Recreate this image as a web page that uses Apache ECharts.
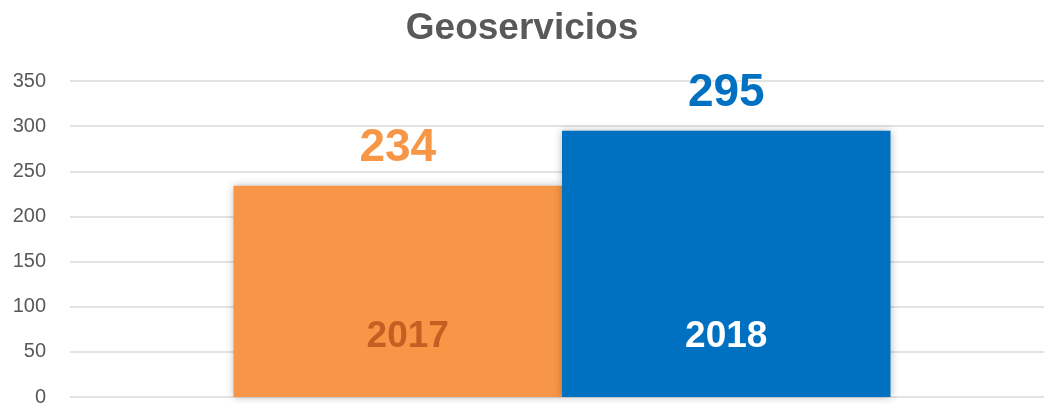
<!DOCTYPE html>
<html>
<head>
<meta charset="utf-8">
<script src="https://cdn.jsdelivr.net/npm/echarts@6/dist/echarts.min.js"></script>
<style>
html,body{margin:0;padding:0;background:#fff;}
#chart{width:1044px;height:404px;}
</style>
</head>
<body>
<div id="chart"></div>
<script>
var title = 'Geoservicios';
var categories = ['Geoservicios'];
var years = ['2017', '2018'];
var values2017 = [234];
var values2018 = [295];
var yTicks = [0, 50, 100, 150, 200, 250, 300, 350];

var colors = ['#F79646', '#0070C0'];
var innerColors = ['#C55E22', '#FFFFFF'];
var seriesValues = [values2017, values2018];
var FONT = '"Liberation Sans", Arial, sans-serif';

var series = [];
years.forEach(function (y, i) {
  series.push({
    name: y,
    type: 'bar',
    xAxisIndex: 0,
    data: seriesValues[i],
    barWidth: 328.5,
    barGap: '0%',
    itemStyle: { color: colors[i], shadowBlur: 8, shadowColor: 'rgba(0,0,0,0.28)' },
    label: {
      show: true, position: 'top', distance: 14,
      color: colors[i], fontSize: 46, fontWeight: 'bold', fontFamily: FONT
    },
    emphasis: { disabled: true },
    z: 2
  });
});
years.forEach(function (y, i) {
  series.push({
    name: y,
    type: 'bar',
    xAxisIndex: 1,
    data: seriesValues[i],
    barWidth: 328.5,
    barGap: '0%',
    itemStyle: { color: 'rgba(0,0,0,0)' },
    label: {
      show: true, position: 'insideBottom', distance: 42,
      offset: i === 0 ? [10, 0] : [0, 0],
      formatter: '{a}',
      color: innerColors[i], fontSize: 37, fontWeight: 'bold', fontFamily: FONT
    },
    emphasis: { disabled: true },
    z: 3
  });
});

var chart = echarts.init(document.getElementById('chart'), null, { renderer: 'canvas' });
chart.setOption({
  animation: false,
  title: {
    text: title, left: 'center', top: 5,
    textStyle: { color: '#595959', fontSize: 37, fontWeight: 'bold', fontFamily: FONT }
  },
  grid: { left: 70, top: 81, width: 984, bottom: 7, containLabel: false, outerBoundsMode: 'none' },
  xAxis: [
    { type: 'category', data: categories, show: false },
    { type: 'category', data: categories, show: false }
  ],
  yAxis: {
    type: 'value', min: yTicks[0], max: yTicks[yTicks.length - 1], interval: 50,
    axisLine: { show: false }, axisTick: { show: false },
    axisLabel: { color: '#595959', fontSize: 20, fontFamily: FONT, margin: 24 },
    splitLine: { lineStyle: { color: '#D9D9D9', width: 1.5 } }
  },
  series: series
});
</script>
</body>
</html>
